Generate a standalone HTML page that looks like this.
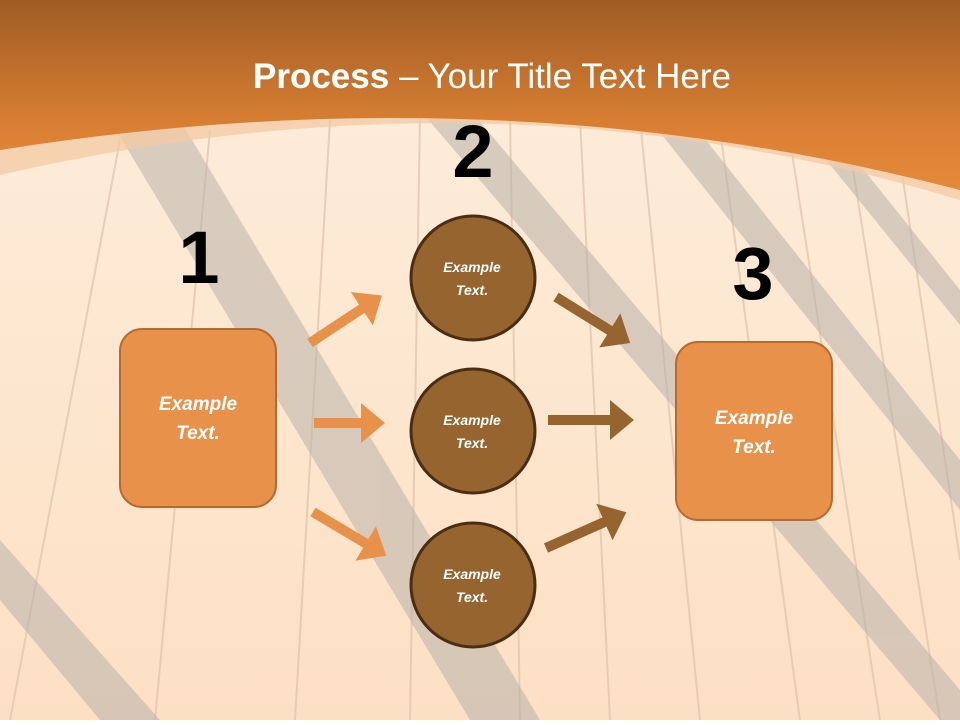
<!DOCTYPE html>
<html><head><meta charset="utf-8"><style>
html,body{margin:0;padding:0;}
body{width:960px;height:720px;overflow:hidden;font-family:"Liberation Sans",sans-serif;}
</style></head><body>
<svg width="960" height="720" viewBox="0 0 960 720" xmlns="http://www.w3.org/2000/svg">
<defs>
<linearGradient id="hd" x1="0" y1="0" x2="0" y2="1">
<stop offset="0" stop-color="#a05c24"/><stop offset="0.7" stop-color="#dc8134"/><stop offset="1" stop-color="#e48a3a"/>
</linearGradient>
<linearGradient id="bg" x1="0" y1="0" x2="0" y2="1">
<stop offset="0" stop-color="#fdeedd"/><stop offset="1" stop-color="#fde0c4"/>
</linearGradient>
<marker id="ho" markerWidth="4" markerHeight="4" refX="0.5" refY="2" orient="auto" markerUnits="strokeWidth"><path d="M0,0 L2.4,2 L0,4 z" fill="#e8914a"/></marker>
<marker id="hb" markerWidth="4" markerHeight="4" refX="0.5" refY="2" orient="auto" markerUnits="strokeWidth"><path d="M0,0 L2.4,2 L0,4 z" fill="#96642f"/></marker>
</defs>
<rect width="960" height="720" fill="url(#bg)"/>
<g stroke="#e2c7b0" stroke-width="2" opacity="0.8">
<line x1="120" y1="140" x2="10" y2="720"/><line x1="210" y1="130" x2="155" y2="720"/>
<line x1="330" y1="120" x2="295" y2="720"/><line x1="420" y1="115" x2="410" y2="720"/>
<line x1="510" y1="115" x2="520" y2="720"/><line x1="580" y1="118" x2="610" y2="720"/>
<line x1="640" y1="120" x2="700" y2="720"/><line x1="720" y1="130" x2="800" y2="720"/>
<line x1="790" y1="140" x2="880" y2="720"/><line x1="850" y1="150" x2="940" y2="720"/>
<line x1="900" y1="160" x2="960" y2="560"/>
</g>
<g fill="#b9b2ab" opacity="0.55">
<polygon points="110,120 180,120 540,720 470,720"/>
<polygon points="420,110 470,110 960,690 960,720 940,720"/>
<polygon points="650,120 690,120 960,460 960,510"/>
<polygon points="810,140 840,140 960,290 960,325"/>
<polygon points="0,540 0,600 100,720 160,720"/>
</g>
<path d="M0,0 H960 V200 Q500,60 0,175 Z" fill="#f3c9a3" opacity="0.75"/>
<path d="M0,0 H960 V190 Q500,70 0,150 Z" fill="url(#hd)"/>
<text x="492" y="88" text-anchor="middle" font-family="Liberation Sans,sans-serif" font-size="35" fill="#fff"><tspan font-weight="bold">Process</tspan> – Your Title Text Here</text>
<g font-family="Liberation Sans,sans-serif" font-weight="bold" font-size="74" fill="#000" text-anchor="middle">
<text x="199" y="283">1</text><text x="473" y="177">2</text><text x="753" y="299">3</text>
</g>
<g stroke-width="10" fill="none">
<line x1="310" y1="343" x2="366" y2="306" stroke="#e8914a" marker-end="url(#ho)"/>
<line x1="314" y1="423" x2="366" y2="423" stroke="#e8914a" marker-end="url(#ho)"/>
<line x1="313" y1="512" x2="370" y2="546" stroke="#e8914a" marker-end="url(#ho)"/>
<line x1="556" y1="297" x2="614" y2="333" stroke="#96642f" marker-end="url(#hb)"/>
<line x1="548" y1="420" x2="615" y2="420" stroke="#96642f" marker-end="url(#hb)"/>
<line x1="546" y1="548" x2="609" y2="520" stroke="#96642f" marker-end="url(#hb)"/>
</g>
<rect x="120" y="329" width="156" height="178" rx="22" fill="#e8914a" stroke="#b76a30" stroke-width="2"/>
<rect x="676" y="342" width="156" height="178" rx="22" fill="#e8914a" stroke="#b76a30" stroke-width="2"/>
<g fill="#96642f" stroke="#4a2d12" stroke-width="3">
<circle cx="473" cy="278" r="62"/><circle cx="473" cy="431" r="62"/><circle cx="473" cy="585" r="62"/>
</g>
<g font-family="Liberation Sans,sans-serif" font-weight="bold" font-style="italic" fill="#fff" text-anchor="middle">
<text x="198" y="410" font-size="19">Example</text><text x="198" y="439" font-size="19">Text.</text>
<text x="754" y="424" font-size="19">Example</text><text x="754" y="453" font-size="19">Text.</text>
<text x="472" y="272" font-size="14">Example</text><text x="472" y="295" font-size="14">Text.</text>
<text x="472" y="425" font-size="14">Example</text><text x="472" y="448" font-size="14">Text.</text>
<text x="472" y="579" font-size="14">Example</text><text x="472" y="602" font-size="14">Text.</text>
</g>
</svg>
</body></html>
